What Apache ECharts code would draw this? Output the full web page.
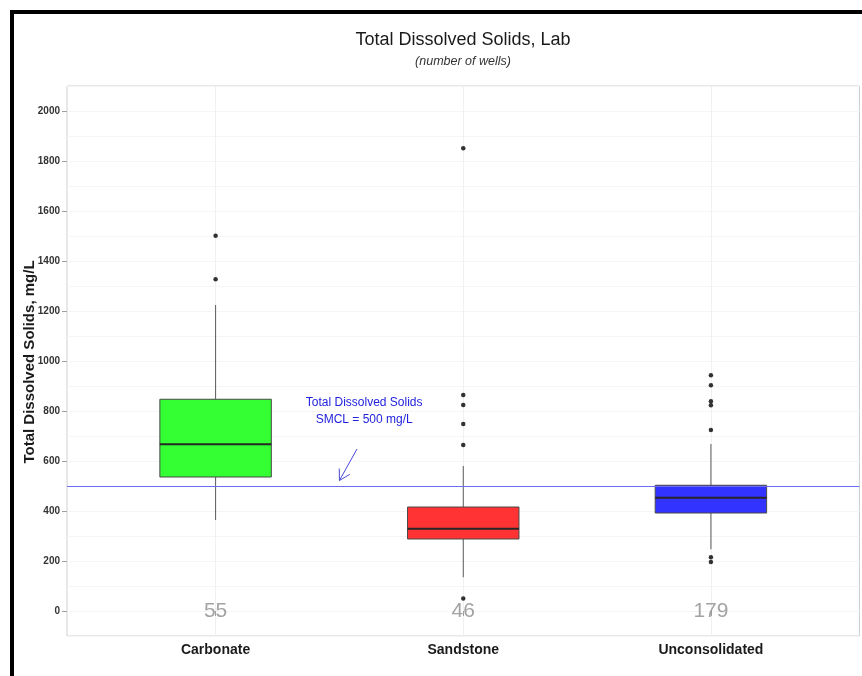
<!DOCTYPE html>
<html>
<head>
<meta charset="utf-8">
<script src="https://cdn.jsdelivr.net/npm/echarts@6/dist/echarts.min.js"></script>
<style>
  html, body { margin: 0; padding: 0; background: #ffffff; }
  #chart { width: 862px; height: 676px; }
</style>
</head>
<body>
<div id="chart"></div>
<script>
// Aquifer groups on the x axis
const categories = ['Carbonate', 'Sandstone', 'Unconsolidated'];

// Box summaries per group (mg/L): whisker ends, quartiles and median
const whiskerLow  = [364, 135, 247];
const quartile1   = [536, 288, 392];
const medians     = [667, 329, 453];
const quartile3   = [847, 416, 503];
const whiskerHigh = [1224, 580, 668];

// Individual wells beyond the whiskers
const carbonateOutliers      = [1501, 1327];
const sandstoneOutliers      = [1851, 864, 824, 748, 664, 50];
const unconsolidatedOutliers = [943, 903, 839, 823, 724, 215, 196];

// Number of wells sampled in each group
const wellCounts = [55, 46, 179];

// Labelled y ticks
const yTickValues = [0, 200, 400, 600, 800, 1000, 1200, 1400, 1600, 1800, 2000];

// Secondary maximum contaminant level
const smclValue = 500;

// ---- styling ----
const BOX_FILLS = ['#33ff33', '#ff3333', '#3333ff'];
const BOX_WIDTH = 0.45;
const FONT = '"Liberation Sans", Arial, Helvetica, sans-serif';

const outlierSets = [carbonateOutliers, sandstoneOutliers, unconsolidatedOutliers];
const boxData = categories.map((c, i) =>
  [i + 1, whiskerLow[i], quartile1[i], medians[i], quartile3[i], whiskerHigh[i]]);
const outlierData = [];
outlierSets.forEach((set, i) => set.forEach(v => outlierData.push([i + 1, v])));
const countData = wellCounts.map((n, i) => [i + 1, 0, n]);

function renderBox(params, api) {
  const x = api.value(0);
  const pLo  = api.coord([x, api.value(1)]);
  const pQ1  = api.coord([x, api.value(2)]);
  const pMed = api.coord([x, api.value(3)]);
  const pQ3  = api.coord([x, api.value(4)]);
  const pHi  = api.coord([x, api.value(5)]);
  const half = api.size([BOX_WIDTH, 0])[0] / 2;
  const cx = pMed[0];
  return {
    type: 'group',
    children: [
      { type: 'line', shape: { x1: cx, y1: pQ3[1], x2: cx, y2: pHi[1] },
        style: { stroke: '#5a5a5a', lineWidth: 1 } },
      { type: 'line', shape: { x1: cx, y1: pQ1[1], x2: cx, y2: pLo[1] },
        style: { stroke: '#5a5a5a', lineWidth: 1 } },
      { type: 'rect', shape: { x: cx - half, y: pQ3[1], width: half * 2, height: pQ1[1] - pQ3[1] },
        style: { fill: BOX_FILLS[params.dataIndex], stroke: '#4a4a4a', lineWidth: 1 } },
      { type: 'line', shape: { x1: cx - half, y1: pMed[1], x2: cx + half, y2: pMed[1] },
        style: { stroke: '#262626', lineWidth: 2 } }
    ]
  };
}

// SMCL note: text anchor and arrow from the note down to the line (data units)
const NOTE_X = 1.6, NOTE_Y = 800;
const ARROW_FROM = [1.571, 648];
const ARROW_TO = [1.5, 522];

function renderNote(params, api) {
  const t = api.coord([NOTE_X, NOTE_Y]);
  const a = api.coord(ARROW_FROM);
  const b = api.coord(ARROW_TO);
  const ang = Math.atan2(a[1] - b[1], a[0] - b[0]);
  const len = 12, spread = Math.PI / 6;
  const h1 = [b[0] + len * Math.cos(ang + spread), b[1] + len * Math.sin(ang + spread)];
  const h2 = [b[0] + len * Math.cos(ang - spread), b[1] + len * Math.sin(ang - spread)];
  const blue = '#2222dd';
  return {
    type: 'group',
    children: [
      { type: 'text', x: t[0], y: t[1] - 8,
        style: { text: 'Total Dissolved Solids', fill: blue, font: '12px ' + FONT,
                 align: 'center', verticalAlign: 'middle' } },
      { type: 'text', x: t[0], y: t[1] + 9,
        style: { text: 'SMCL = 500 mg/L', fill: blue, font: '12px ' + FONT,
                 align: 'center', verticalAlign: 'middle' } },
      { type: 'line', shape: { x1: a[0], y1: a[1], x2: b[0], y2: b[1] },
        style: { stroke: '#4a4ad8', lineWidth: 1 } },
      { type: 'polyline', shape: { points: [h1, b, h2] },
        style: { stroke: '#4a4ad8', lineWidth: 1, fill: null } }
    ]
  };
}

const chart = echarts.init(document.getElementById('chart'), null, { renderer: 'canvas' });

chart.setOption({
  backgroundColor: '#ffffff',
  animation: false,
  graphic: [
    { type: 'rect', shape: { x: 12, y: 12, width: 900, height: 700 },
      style: { fill: null, stroke: '#000000', lineWidth: 4 }, z: 100 },
    { type: 'text', x: 463, y: 40,
      style: { text: 'Total Dissolved Solids, Lab', fill: '#1a1a1a', font: '18px ' + FONT,
               align: 'center', verticalAlign: 'middle' } },
    { type: 'text', x: 463, y: 62,
      style: { text: '(number of wells)', fill: '#333333', font: 'italic 12.5px ' + FONT,
               align: 'center', verticalAlign: 'middle' } },
    { type: 'text', x: 30, y: 362, rotation: Math.PI / 2,
      style: { text: 'Total Dissolved Solids, mg/L', fill: '#1a1a1a',
               font: 'bold 15px ' + FONT, align: 'center', verticalAlign: 'middle' } }
  ],
  grid: {
    left: 67, right: 2.5, top: 86, bottom: 40,
    show: true, backgroundColor: '#ffffff', borderColor: '#d0d0d0', borderWidth: 1
  },
  xAxis: {
    type: 'value', min: 0.4, max: 3.6,
    axisLine: { show: false },
    axisTick: { show: true, customValues: [1, 2, 3], length: 5, lineStyle: { color: '#a0a0a0' } },
    axisLabel: {
      customValues: [1, 2, 3], margin: 7,
      formatter: v => categories[Math.round(v) - 1] || '',
      fontFamily: FONT, fontSize: 14, fontWeight: 'bold', color: '#1a1a1a'
    },
    splitLine: { show: true, lineStyle: { color: '#f0f0f0', width: 1 } }
  },
  yAxis: [
    {
      type: 'value', min: -100, max: 2100, interval: 100,
      axisLine: { show: false },
      axisTick: { show: true, customValues: yTickValues, length: 5, lineStyle: { color: '#a0a0a0' } },
      axisLabel: {
        customValues: yTickValues, margin: 7, formatter: v => String(v),
        fontFamily: FONT, fontSize: 10, fontWeight: 'bold', color: '#333333'
      },
      splitLine: { show: true, lineStyle: { color: '#ebebeb', width: 1 } }
    },
    {
      // finer grid between the labelled values
      type: 'value', min: -100, max: 2100, interval: 100, position: 'left',
      axisLine: { show: false }, axisTick: { show: false }, axisLabel: { show: false },
      splitLine: { show: true, lineStyle: { color: '#f5f5f5', width: 1 } }
    }
  ],
  series: [
    {
      name: 'boxes', type: 'custom', renderItem: renderBox,
      data: boxData, encode: { x: 0, y: [1, 2, 3, 4, 5] }, z: 3,
      markLine: {
        silent: true, symbol: 'none', animation: false,
        label: { show: false },
        lineStyle: { color: '#6c6cf2', width: 1, type: 'solid' },
        data: [{ yAxis: smclValue }]
      }
    },
    {
      name: 'outliers', type: 'scatter', data: outlierData,
      symbol: 'circle', symbolSize: 4.5, itemStyle: { color: '#000000' }, z: 4
    },
    {
      name: 'counts', type: 'scatter', data: countData, symbolSize: 0, z: 5,
      label: {
        show: true, position: 'inside', formatter: p => String(p.value[2]),
        fontFamily: FONT, fontSize: 21, color: '#8c8c8c'
      }
    },
    {
      name: 'note', type: 'custom', renderItem: renderNote,
      data: [[NOTE_X, NOTE_Y]], encode: { x: 0, y: 1 }, z: 6, clip: false
    }
  ]
});
</script>
</body>
</html>
